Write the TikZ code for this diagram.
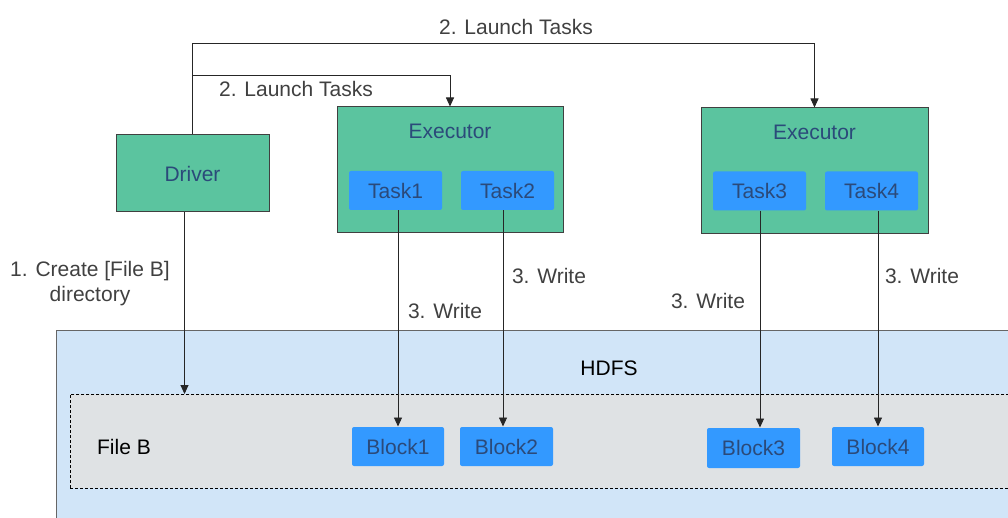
\documentclass[tikz,border=0pt]{standalone}
\usepackage{fontspec}
\setmainfont{Liberation Sans}
\usetikzlibrary{positioning, arrows.meta, calc}

\definecolor{nodegreen}{HTML}{5BC49F}
\definecolor{taskblue}{HTML}{3399FF}
\definecolor{hdfsblue}{HTML}{D1E5F8}
\definecolor{filegray}{HTML}{DFE2E4}
\definecolor{nodetext}{HTML}{2B4A7A}
\definecolor{labeltext}{HTML}{404040}

\begin{document}
\begin{tikzpicture}[
        x=1pt, y=-1pt,
        base/.style={draw=labeltext, line width=1pt, align=center, font=\fontsize{21}{25}\selectfont, text=nodetext, inner sep=0pt},
        proc/.style={base, fill=nodegreen},
        task/.style={base, draw=none, fill=taskblue, rounded corners=2pt, minimum width=93pt, minimum height=39pt},
        lbl/.style={align=center, font=\fontsize{21}{25}\selectfont, text=labeltext},
        arr/.style={-{Triangle[length=9pt, width=8pt]}, line width=0.9pt, draw=black!85}
    ]
    \clip (0,0) rectangle (1008,518);
    % HDFS and File B containers
    \node[base, draw=labeltext!80, fill=hdfsblue, minimum width=960pt, minimum height=200pt, anchor=north west] (hdfs) at (56,330) {};
    \node[font=\fontsize{21}{25}\selectfont] (hdfslbl) at (609,368) {HDFS};
    \node[base, draw=black, densely dashed, line width=0.6pt, fill=filegray, minimum width=945pt, minimum height=94pt, anchor=north west] (fileb) at (70,394) {};
    \node[font=\fontsize{21}{25}\selectfont] (fileblbl) at (124,447) {File B};
    % Driver and executors
    \node[proc, minimum width=153pt, minimum height=77pt] (drv) at (192.5,173.5) {Driver};
    \node[proc, minimum width=226pt, minimum height=126pt] (ex1) at (450,170) {};
    \node[text=nodetext, font=\fontsize{21}{25}\selectfont] (ex1lbl) at (450,131) {Executor};
    \node[proc, minimum width=227pt, minimum height=126pt] (ex2) at (814.5,171) {};
    \node[text=nodetext, font=\fontsize{21}{25}\selectfont] (ex2lbl) at (814.5,132) {Executor};
    % Tasks
    \node[task] (t1) at (395.5,190.5) {Task1};
    \node[task] (t2) at (507.5,190.5) {Task2};
    \node[task] (t3) at (759.5,191) {Task3};
    \node[task] (t4) at (871.5,191) {Task4};
    % Blocks
    \node[task, minimum width=92pt] (b1) at (398,446.5) {Block1};
    \node[task] (b2) at (506.5,446.5) {Block2};
    \node[task, minimum height=40pt] (b3) at (753.5,448) {Block3};
    \node[task, minimum width=92pt] (b4) at (878,446.5) {Block4};

    % Launch tasks
    \coordinate (high) at (192.5,43);
    \coordinate (low) at (192.5,75);
    \draw[arr] (drv.north) -- (high) -| (ex2.north);
    \draw[arr] (low) -| (ex1.north);
    \node[lbl] (l2a) at (516,27) {2. Launch Tasks};
    \node[lbl] (l2b) at (296,89) {2. Launch Tasks};

    % Create directory
    \coordinate (dd) at ([xshift=-8pt]drv.south);
    \draw[arr] (dd) -- (dd |- fileb.north);
    \node[lbl] (l1) at (90,284) {1. Create [File B]\\directory};

    % Write
    \coordinate (w2top) at ([xshift=-4.5pt]t2.south);
    \coordinate (w3top) at ([xshift=0.5pt]t3.south);
    \draw[arr] (b1.north |- t1.south) -- (b1.north);
    \draw[arr] (w2top) -- (w2top |- b2.north);
    \draw[arr] (w3top) -- (w3top |- b3.north);
    \draw[arr] (b4.north |- t4.south) -- (b4.north);
    \node[lbl] (w1) at (445,311) {3. Write};
    \node[lbl] (w2) at (549,276) {3. Write};
    \node[lbl] (w3) at (708,301) {3. Write};
    \node[lbl] (w4) at (922,276) {3. Write};
\end{tikzpicture}
\end{document}
